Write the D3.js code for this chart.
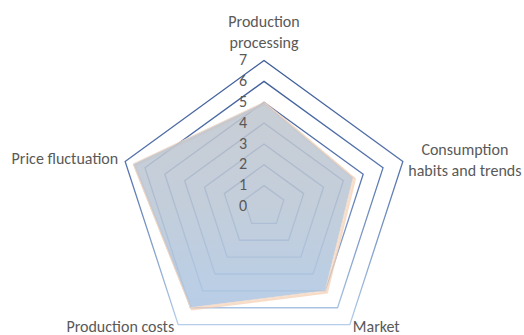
<!DOCTYPE html>
<html>
<head>
<meta charset="utf-8">
<script src="https://cdn.jsdelivr.net/npm/d3@7"></script>
<style>
  html, body { margin: 0; padding: 0; background: #fff; }
  svg { display: block; }
</style>
</head>
<body>
<svg id="chart" width="524" height="335"></svg>
<script>
// ─── Data ────────────────────────────────────────────────────────────────────
const categories = [
  ['Production', 'processing'],
  ['Consumption', 'habits and trends'],
  ['Market'],
  ['Production costs'],
  ['Price fluctuation']
];
const values = [5, 4.5, 5, 6, 6.6];
const tickValues = [0, 1, 2, 3, 4, 5, 6, 7];

// ─── Layout ──────────────────────────────────────────────────────────────────
const CX = 264, CY = 206.5, R = 146;
const FONT = 'Carlito, Calibri, "Open Sans", sans-serif';

const svg = d3.select('#chart');
const r = d3.scaleLinear().domain([0, 7]).range([0, R]);
const angle = i => i * 2 * Math.PI / categories.length;
const pt = (i, v) => [CX + r(v) * Math.sin(angle(i)), CY - r(v) * Math.cos(angle(i))];

const defs = svg.append('defs');

// gridline stroke: dark blue at the top fading to light blue at the bottom
const gGrid = defs.append('linearGradient')
  .attr('id', 'gridGrad')
  .attr('gradientUnits', 'userSpaceOnUse')
  .attr('x1', 0).attr('y1', CY - R).attr('x2', 0).attr('y2', CY + R * 0.81);
gGrid.append('stop').attr('offset', '0%').attr('stop-color', '#3b5a96');
gGrid.append('stop').attr('offset', '45%').attr('stop-color', '#5a78b0');
gGrid.append('stop').attr('offset', '100%').attr('stop-color', '#b4cdea');

// area fill: greyish at the top, light blue at the bottom
const gFill = defs.append('linearGradient')
  .attr('id', 'fillGrad')
  .attr('gradientUnits', 'userSpaceOnUse')
  .attr('x1', 0).attr('y1', CY - R).attr('x2', 0).attr('y2', CY + R * 0.81);
gFill.append('stop').attr('offset', '0%').attr('stop-color', '#c3c6cc');
gFill.append('stop').attr('offset', '55%').attr('stop-color', '#bac6d5');
gFill.append('stop').attr('offset', '100%').attr('stop-color', '#abc7e6');

const line = d3.line();
const ring = v => line(categories.map((c, i) => pt(i, v))) + 'Z';

// ── Gridlines (rings 1..7) ─────────────────────────────────────────────────
svg.append('g')
  .attr('fill', 'none')
  .selectAll('path')
  .data(tickValues.filter(v => v > 0))
  .join('path')
  .attr('d', d => ring(d))
  .attr('stroke', 'url(#gridGrad)')
  .attr('stroke-width', 1.3);

// ── Series area ────────────────────────────────────────────────────────────
const areaPath = line(values.map((v, i) => pt(i, v))) + 'Z';

// soft orange shadow, offset down-right
svg.append('path')
  .attr('d', areaPath)
  .attr('transform', 'translate(1.5,1.5)')
  .attr('fill', 'none')
  .attr('stroke', '#f3cdb0')
  .attr('stroke-width', 2.5)
  .attr('opacity', 0.7);

svg.append('path')
  .attr('d', areaPath)
  .attr('fill', 'url(#fillGrad)')
  .attr('opacity', 0.86)
  .attr('stroke', '#f0d6c4')
  .attr('stroke-width', 1);

// ── Tick labels ────────────────────────────────────────────────────────────
svg.append('g')
  .selectAll('text')
  .data(tickValues)
  .join('text')
  .attr('x', CX - 17)
  .attr('y', d => CY - r(d) - 1)
  .attr('dy', '0.35em')
  .attr('text-anchor', 'end')
  .style('font-family', FONT)
  .style('font-size', '16px')
  .style('fill', '#595959')
  .text(d => d);

// ── Category labels ────────────────────────────────────────────────────────
// offsets from the outer vertex: [dx, dy, anchor]
const labelPos = [
  [0, -39, 'middle'],
  [62, -11.5, 'middle'],
  [3, 2, 'start'],
  [-4, 1.5, 'end'],
  [-7, -3, 'end']
];

svg.append('g')
  .selectAll('text')
  .data(categories)
  .join('text')
  .attr('x', (d, i) => pt(i, 7)[0] + labelPos[i][0])
  .attr('y', (d, i) => pt(i, 7)[1] + labelPos[i][1])
  .attr('text-anchor', (d, i) => labelPos[i][2])
  .style('font-family', FONT)
  .style('font-size', '16px')
  .style('fill', '#595959')
  .each(function (d, i) {
    const t = d3.select(this);
    d.forEach((s, k) => {
      t.append('tspan')
        .attr('x', pt(i, 7)[0] + labelPos[i][0])
        .attr('dy', k === 0 ? '0.35em' : '1.3em')
        .text(s);
    });
  });
</script>
</body>
</html>
